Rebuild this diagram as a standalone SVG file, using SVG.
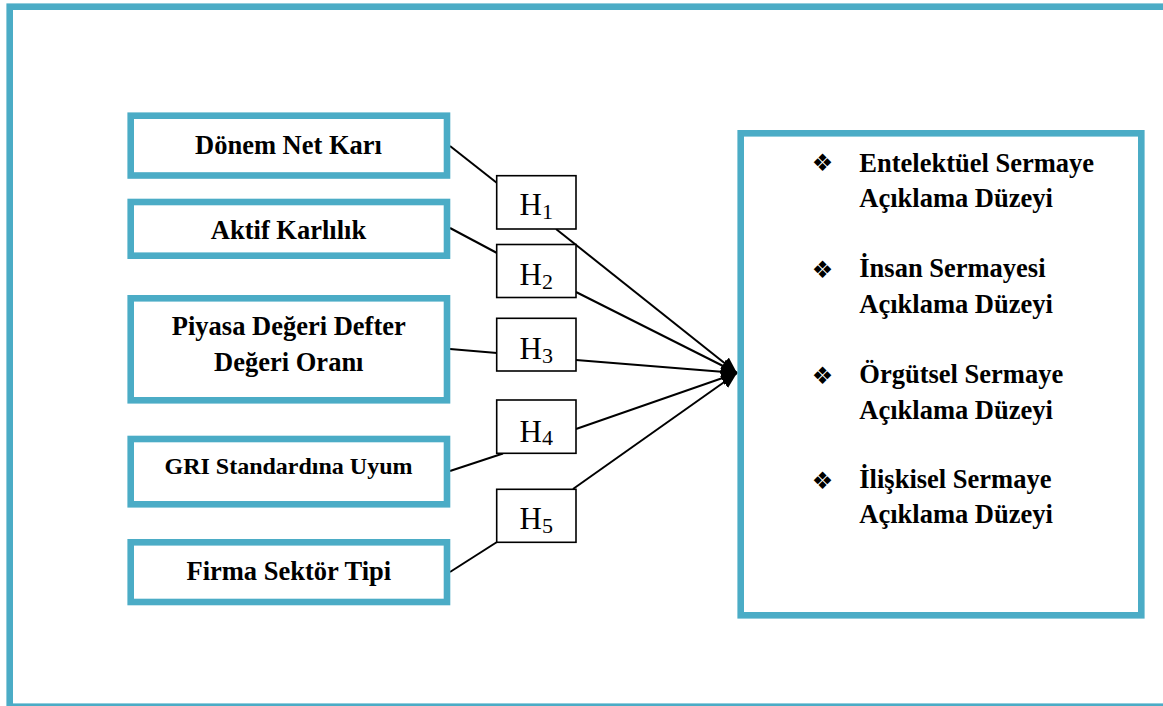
<svg xmlns="http://www.w3.org/2000/svg" width="1163" height="706" viewBox="0 0 1163 706">
  <style>
    .frame { fill: none; stroke: #4BACC6; stroke-width: 6.6; }
    .box { fill: #FFFFFF; stroke: #4BACC6; stroke-width: 6.6; }
    .hbox { fill: #FFFFFF; stroke: #000000; stroke-width: 1.6; }
    .lbl { font-family: "Liberation Serif", "Times New Roman", serif; font-weight: bold; font-size: 26.5px; fill: #000000; }
    .hyp { font-family: "Liberation Serif", "Times New Roman", serif; font-size: 31px; fill: #000000; }
    .sub { font-size: 22px; }
    .bullet { font-family: "DejaVu Sans", sans-serif; font-size: 24px; fill: #000000; }
    .link { stroke: #000000; stroke-width: 2; fill: none; }
  </style>
  <defs>
    <marker id="arrow" markerUnits="userSpaceOnUse" markerWidth="17" markerHeight="15" refX="16" refY="7" orient="auto">
      <path d="M0,0 L16,7 L0,14 Z" fill="#000000"/>
    </marker>
  </defs>

  <rect width="1163" height="706" fill="#FFFFFF"/>

  <!-- outer frame -->
  <rect class="frame" x="9.7" y="6.7" width="1160" height="700"/>

  <!-- connectors -->
  <g id="connectors">
    <line class="link" x1="450" y1="146" x2="497" y2="183"/>
    <line class="link" x1="450" y1="228" x2="497" y2="253"/>
    <line class="link" x1="450" y1="349" x2="497" y2="353"/>
    <line class="link" x1="450" y1="471" x2="503" y2="453.5"/>
    <line class="link" x1="450" y1="572" x2="497" y2="542"/>
    <line class="link" x1="556" y1="229" x2="737" y2="373" marker-end="url(#arrow)"/>
    <line class="link" x1="576" y1="292" x2="737" y2="373" marker-end="url(#arrow)"/>
    <line class="link" x1="576" y1="360" x2="737" y2="373" marker-end="url(#arrow)"/>
    <line class="link" x1="576" y1="429" x2="737" y2="373" marker-end="url(#arrow)"/>
    <line class="link" x1="573" y1="489" x2="737" y2="373" marker-end="url(#arrow)"/>
  </g>

  <!-- independent variables -->
  <g id="donem-net-kari">
    <rect class="box" x="130.7" y="115.7" width="316.3" height="59.8"/>
    <text class="lbl" x="288.5" y="154" text-anchor="middle">Dönem Net Karı</text>
  </g>
  <g id="aktif-karlilik">
    <rect class="box" x="130.7" y="202" width="316.3" height="53.7"/>
    <text class="lbl" x="288.5" y="239.3" text-anchor="middle">Aktif Karlılık</text>
  </g>
  <g id="piyasa-defter">
    <rect class="box" x="130.7" y="298.3" width="316.3" height="102"/>
    <text class="lbl" x="288.8" y="335" text-anchor="middle">Piyasa Değeri Defter</text>
    <text class="lbl" x="288.8" y="370.7" text-anchor="middle">Değeri Oranı</text>
  </g>
  <g id="gri-uyum">
    <rect class="box" x="130.7" y="439" width="316.3" height="65.3"/>
    <text class="lbl" x="288.5" y="474" text-anchor="middle" style="font-size:24px">GRI Standardına Uyum</text>
  </g>
  <g id="firma-sektor">
    <rect class="box" x="130.7" y="542.3" width="316.3" height="59.7"/>
    <text class="lbl" x="288.8" y="580" text-anchor="middle">Firma Sektör Tipi</text>
  </g>

  <!-- hypotheses -->
  <g id="h1">
    <rect class="hbox" x="496.7" y="175.7" width="79.3" height="53.3"/>
    <text class="hyp" x="519.5" y="215">H<tspan class="sub" dy="3.5">1</tspan></text>
  </g>
  <g id="h2">
    <rect class="hbox" x="496.7" y="244.5" width="79.3" height="53"/>
    <text class="hyp" x="519.5" y="285">H<tspan class="sub" dy="3.5">2</tspan></text>
  </g>
  <g id="h3">
    <rect class="hbox" x="496.7" y="318.3" width="79.3" height="52.7"/>
    <text class="hyp" x="519.5" y="359.3">H<tspan class="sub" dy="3.5">3</tspan></text>
  </g>
  <g id="h4">
    <rect class="hbox" x="496.7" y="400" width="79.3" height="53.3"/>
    <text class="hyp" x="519.5" y="441.7">H<tspan class="sub" dy="3.5">4</tspan></text>
  </g>
  <g id="h5">
    <rect class="hbox" x="496.7" y="489.3" width="79.3" height="53"/>
    <text class="hyp" x="519.5" y="529.3">H<tspan class="sub" dy="3.5">5</tspan></text>
  </g>

  <!-- dependent variables -->
  <g id="sermaye-aciklama">
    <rect class="box" x="740.7" y="133.3" width="400.6" height="482"/>
    <text class="bullet" x="822.5" y="171" text-anchor="middle">❖</text>
    <text class="lbl" x="859.3" y="171.7">Entelektüel Sermaye</text>
    <text class="lbl" x="859.3" y="207.3">Açıklama Düzeyi</text>
    <text class="bullet" x="822.5" y="277.5" text-anchor="middle">❖</text>
    <text class="lbl" x="859.3" y="276.7">İnsan Sermayesi</text>
    <text class="lbl" x="859.3" y="312.7">Açıklama Düzeyi</text>
    <text class="bullet" x="822.5" y="384" text-anchor="middle">❖</text>
    <text class="lbl" x="859.3" y="383.3">Örgütsel Sermaye</text>
    <text class="lbl" x="859.3" y="419">Açıklama Düzeyi</text>
    <text class="bullet" x="822.5" y="489" text-anchor="middle">❖</text>
    <text class="lbl" x="859.3" y="487.7">İlişkisel Sermaye</text>
    <text class="lbl" x="859.3" y="523.3">Açıklama Düzeyi</text>
  </g>
</svg>
